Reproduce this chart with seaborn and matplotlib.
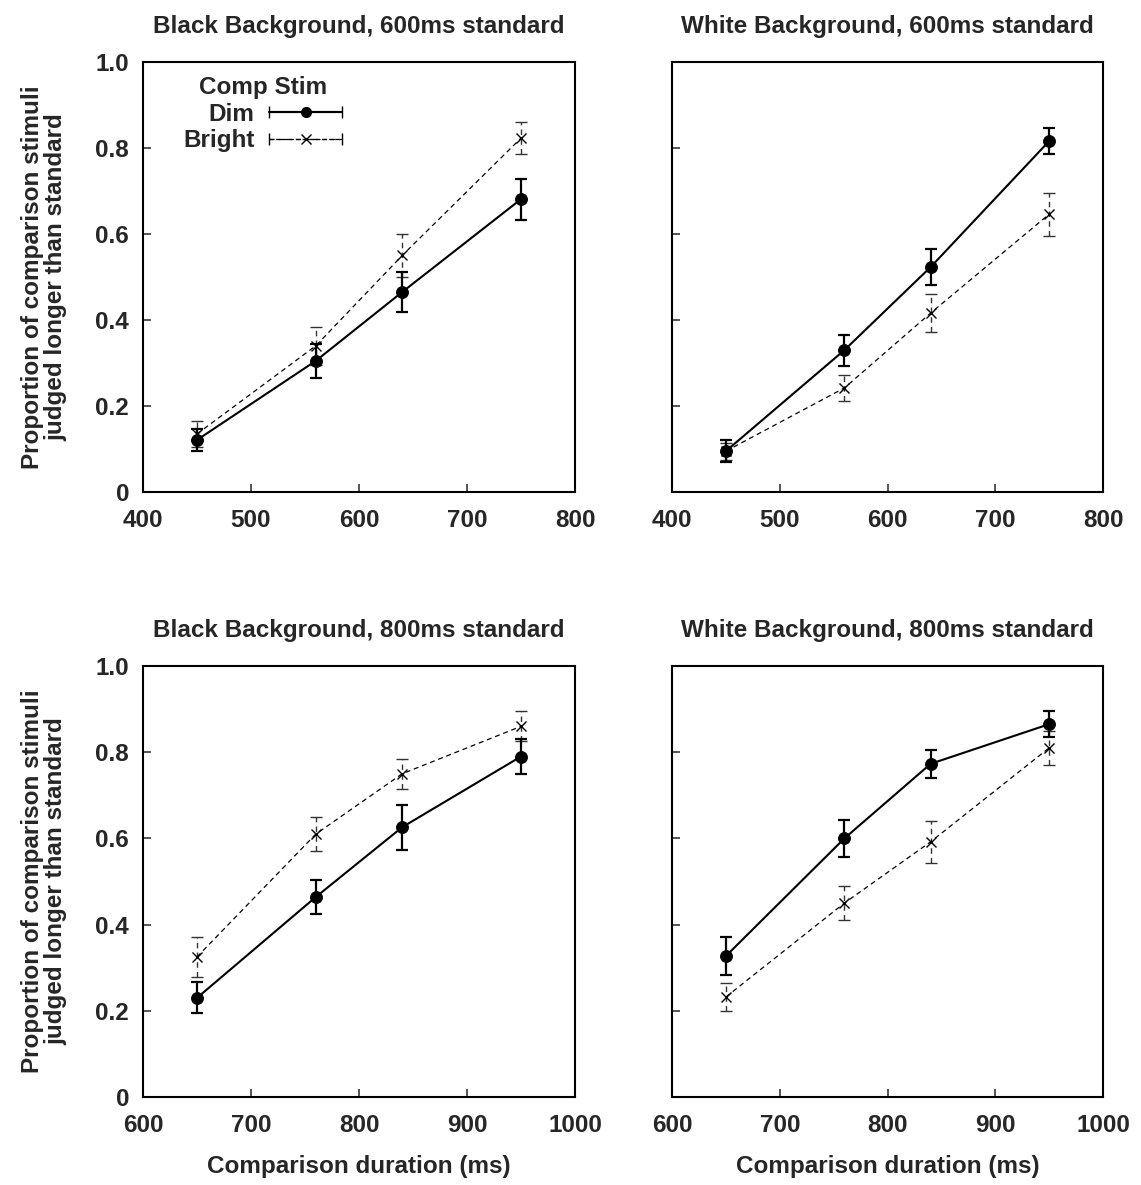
import numpy as np
import pandas as pd
import seaborn as sns
import matplotlib.pyplot as plt
from matplotlib.container import ErrorbarContainer
from matplotlib.legend_handler import HandlerErrorbar

sns.set_theme(style="ticks")
plt.rcParams['font.family'] = ['Liberation Sans', 'DejaVu Sans']
plt.rcParams['font.weight'] = 'bold'

# comparison durations
dur_600 = [450, 560, 640, 750]
dur_800 = [650, 760, 840, 950]

# proportions judged longer + error bars
black600_dim = [0.121, 0.305, 0.465, 0.681]
black600_dim_err = [0.025, 0.040, 0.047, 0.048]
black600_bright = [0.135, 0.340, 0.550, 0.823]
black600_bright_err = [0.030, 0.044, 0.050, 0.037]

white600_dim = [0.095, 0.330, 0.523, 0.816]
white600_dim_err = [0.025, 0.036, 0.042, 0.030]
white600_bright = [0.095, 0.242, 0.416, 0.646]
white600_bright_err = [0.020, 0.030, 0.044, 0.050]

black800_dim = [0.230, 0.464, 0.626, 0.790]
black800_dim_err = [0.036, 0.040, 0.052, 0.040]
black800_bright = [0.325, 0.610, 0.750, 0.860]
black800_bright_err = [0.047, 0.040, 0.035, 0.035]

white800_dim = [0.327, 0.600, 0.773, 0.865]
white800_dim_err = [0.045, 0.043, 0.032, 0.030]
white800_bright = [0.232, 0.450, 0.592, 0.810]
white800_bright_err = [0.033, 0.040, 0.048, 0.040]

titles = ["Black Background, 600ms standard", "White Background, 600ms standard",
          "Black Background, 800ms standard", "White Background, 800ms standard"]
xlabel = "Comparison duration (ms)"
ylabel = "Proportion of comparison stimuli\njudged longer than standard"

panels = [
    (dur_600, black600_dim, black600_dim_err, black600_bright, black600_bright_err),
    (dur_600, white600_dim, white600_dim_err, white600_bright, white600_bright_err),
    (dur_800, black800_dim, black800_dim_err, black800_bright, black800_bright_err),
    (dur_800, white800_dim, white800_dim_err, white800_bright, white800_bright_err),
]

fig = plt.figure(figsize=(11.41, 11.85), dpi=100)
W, H = 1141, 1185
boxes = [(143, 62, 575, 492), (672, 62, 1103, 492),
         (143, 666, 575, 1097), (672, 666, 1103, 1097)]

fs = 17.5
for i, (box, (x, dim, dim_e, br, br_e)) in enumerate(zip(boxes, panels)):
    l, t, r, b = box
    ax = fig.add_axes([l / W, 1 - b / H, (r - l) / W, (b - t) / H])
    df = pd.DataFrame({"dur": x * 2, "prop": dim + br,
                       "stim": ["Dim"] * 4 + ["Bright"] * 4})
    sns.lineplot(data=df[df.stim == "Bright"], x="dur", y="prop", ax=ax,
                 color="black", lw=0.9, linestyle=(0, (4, 3)), marker="x",
                 markersize=7, markeredgewidth=1.0, markeredgecolor="black",
                 zorder=3)
    sns.lineplot(data=df[df.stim == "Dim"], x="dur", y="prop", ax=ax,
                 color="black", lw=1.5, marker="o", markersize=8.5,
                 markeredgecolor="black", zorder=4)
    eb = ax.errorbar(x, br, yerr=br_e, fmt="none", ecolor="#333333",
                     elinewidth=1.0, capsize=4, capthick=1.0, zorder=2)
    eb[2][0].set_linestyle((0, (4, 3)))
    ax.errorbar(x, dim, yerr=dim_e, fmt="none", ecolor="black",
                elinewidth=1.6, capsize=4, capthick=1.6, zorder=2)

    x0 = x[0] - 50
    ax.set_xlim(x0, x0 + 400)
    ax.set_xticks(np.arange(x0, x0 + 401, 100))
    ax.set_ylim(0, 1)
    ax.set_yticks([0, 0.2, 0.4, 0.6, 0.8, 1.0])
    ax.tick_params(direction="in", length=6, width=1.1, labelsize=fs)
    ax.tick_params(axis="x", pad=12)
    ax.tick_params(axis="y", pad=10)
    if i % 2 == 0:
        ax.set_yticklabels(["0", "0.2", "0.4", "0.6", "0.8", "1.0"])
        ax.set_ylabel(ylabel, fontsize=fs, fontweight="bold", labelpad=20,
                      linespacing=1.05)
    else:
        ax.set_yticklabels([])
        ax.set_ylabel("")
    if i >= 2:
        ax.set_xlabel(xlabel, fontsize=fs, fontweight="bold", labelpad=13)
    else:
        ax.set_xlabel("")
    ax.set_title(titles[i], fontsize=fs, fontweight="bold", pad=21)
    for s in ax.spines.values():
        s.set_visible(True)
        s.set_linewidth(1.5)
        s.set_color("black")

    if i == 0:
        h1 = ax.errorbar([np.nan], [np.nan], xerr=[1], fmt="-o", color="black",
                         lw=1.5, markersize=7, capsize=4, elinewidth=1.5)
        h2 = ax.errorbar([np.nan], [np.nan], xerr=[1], fmt="--x", color="black",
                         lw=0.9, markersize=7, capsize=4, elinewidth=0.9)
        h2[2][0].set_linestyle((0, (4, 3)))
        leg = ax.legend([h1, h2], ["Dim", "Bright"], title="Comp Stim",
                        loc="upper left", bbox_to_anchor=(0.093, 0.967),
                        frameon=False, markerfirst=False, fontsize=fs,
                        title_fontsize=fs, handlelength=3.0, handletextpad=0.6,
                        labelspacing=0.15, borderaxespad=0, borderpad=0,
                        handler_map={ErrorbarContainer: HandlerErrorbar(xerr_size=1.5)})
        leg.get_title().set_fontweight("bold")
        for tx in leg.get_texts():
            tx.set_ha("right")

fig.savefig("out.png", dpi=100)
